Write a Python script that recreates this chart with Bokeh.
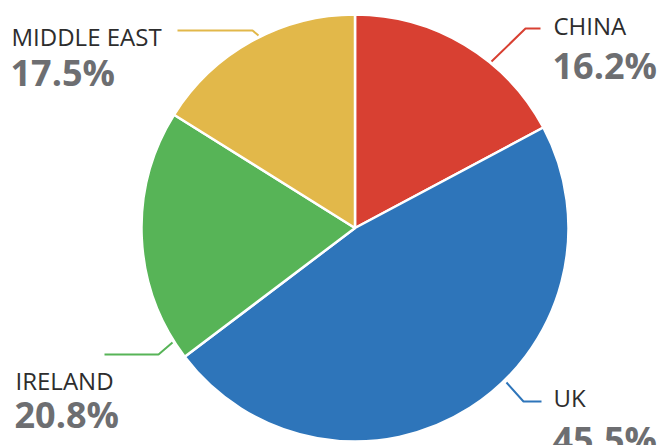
import math
from bokeh.plotting import figure
from bokeh.models import ColumnDataSource, Range1d
from bokeh.core.properties import value
from bokeh.embed import file_html
from bokeh.resources import INLINE

# ---- data ----
regions = ["CHINA", "UK", "IRELAND", "MIDDLE EAST"]
slice_shares = [17.2, 47.5, 19.2, 16.1]      # sizes of the drawn slices
label_pct = [16.2, 45.5, 20.8, 17.5]          # percentages printed on the labels
colors = ["#D84032", "#2E75BA", "#57B457", "#E2B84A"]

# ---- layout (page pixel coordinates; y downward) ----
CX, CY, R = 354.5, 227.5, 213.5
DY = -10  # baseline correction
name_pos = [(553, 35 + DY), (553, 407 + DY), (15, 390 + DY), (11, 46 + DY)]
pct_pos = [(552, 75 + DY), (552, 449 + DY), (14, 424 + DY), (10, 82 + DY)]
leaders = [
    [(491, 61), (525, 28), (540, 28)],
    [(506, 382), (523, 401), (541, 401)],
    [(172, 342), (158, 354), (104, 354)],
    [(258, 35), (252, 30), (177, 30)],
]

W, H = 670, 445
p = figure(width=W, height=H, output_backend="svg", toolbar_location=None,
           x_range=Range1d(0, W), y_range=Range1d(-H, 0),
           x_axis_type=None, y_axis_type=None, min_border=0,
           outline_line_color=None, background_fill_color="white",
           border_fill_color="white")
p.grid.visible = False

total = sum(slice_shares)
starts, ends = [], []
cum = 0.0
for s in slice_shares:
    a0 = math.pi / 2 - 2 * math.pi * cum / total
    cum += s
    a1 = math.pi / 2 - 2 * math.pi * cum / total
    starts.append(a0)
    ends.append(a1)

src = ColumnDataSource(dict(start=starts, end=ends, color=colors,
                            x=[CX] * 4, y=[-CY] * 4))
p.wedge(x="x", y="y", radius=R, start_angle="start", end_angle="end",
        direction="clock", fill_color="color", line_color="white",
        line_width=2.5, source=src)

p.multi_line(xs=[[pt[0] for pt in l] for l in leaders],
             ys=[[-pt[1] for pt in l] for l in leaders],
             line_color=colors, line_width=2)

p.text(x=[q[0] for q in name_pos], y=[-q[1] for q in name_pos], text=regions,
       text_font=value("Open Sans"), text_font_size="24px",
       text_color="#2d2d2d", text_align="left", text_baseline="alphabetic")
p.text(x=[q[0] for q in pct_pos], y=[-q[1] for q in pct_pos],
       text=[f"{v:.1f}%" for v in label_pct],
       text_font=value("Open Sans"), text_font_size="36px",
       text_font_style="bold", text_color="#6D6E71",
       text_align="left", text_baseline="alphabetic")

open("out.html", "w").write(file_html(p, INLINE))
